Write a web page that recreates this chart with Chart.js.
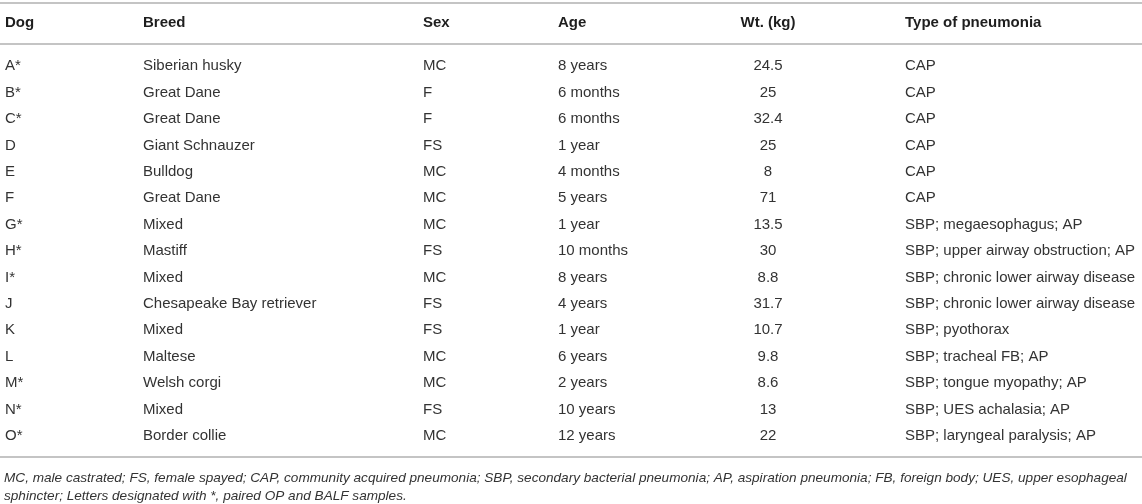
<!DOCTYPE html>
<html>
<head>
<meta charset="utf-8">
<title>Dogs with pneumonia</title>
<script src="https://cdn.jsdelivr.net/npm/chart.js@4/dist/chart.umd.min.js"></script>
<style>
  body { margin: 0; background: #fff; }
  #wrap { width: 1142px; height: 504px; position: relative; }
</style>
</head>
<body>
<div id="wrap"><canvas id="table-canvas"></canvas></div>
<script>
// table data, one array per column
var headers = ["Dog", "Breed", "Sex", "Age", "Wt. (kg)", "Type of pneumonia"];
var dogs = ["A*", "B*", "C*", "D", "E", "F", "G*", "H*", "I*", "J", "K", "L", "M*", "N*", "O*"];
var breeds = ["Siberian husky", "Great Dane", "Great Dane", "Giant Schnauzer", "Bulldog", "Great Dane",
	"Mixed", "Mastiff", "Mixed", "Chesapeake Bay retriever", "Mixed", "Maltese", "Welsh corgi", "Mixed", "Border collie"];
var sexes = ["MC", "F", "F", "FS", "MC", "MC", "MC", "FS", "MC", "FS", "FS", "MC", "MC", "FS", "MC"];
var ages = ["8 years", "6 months", "6 months", "1 year", "4 months", "5 years", "1 year", "10 months",
	"8 years", "4 years", "1 year", "6 years", "2 years", "10 years", "12 years"];
var weights = [24.5, 25, 32.4, 25, 8, 71, 13.5, 30, 8.8, 31.7, 10.7, 9.8, 8.6, 13, 22];
var types = ["CAP", "CAP", "CAP", "CAP", "CAP", "CAP",
	"SBP; megaesophagus; AP", "SBP; upper airway obstruction; AP", "SBP; chronic lower airway disease",
	"SBP; chronic lower airway disease", "SBP; pyothorax", "SBP; tracheal FB; AP",
	"SBP; tongue myopathy; AP", "SBP; UES achalasia; AP", "SBP; laryngeal paralysis; AP"];
var footnotes = [
	"MC, male castrated; FS, female spayed; CAP, community acquired pneumonia; SBP, secondary bacterial pneumonia; AP, aspiration pneumonia; FB, foreign body; UES, upper esophageal",
	"sphincter; Letters designated with *, paired OP and BALF samples."
];

// layout of the columns (x in scale units) and alignment
var colX = [5, 143, 423, 558, 768, 905];
var colAlign = ["left", "left", "left", "left", "center", "left"];

var bodyFont = "15px 'Liberation Sans', Arial, sans-serif";
var headFont = "bold 15px 'Liberation Sans', Arial, sans-serif";
var noteFont = "italic 13.6px 'Liberation Sans', Arial, sans-serif";

var tablePlugin = {
	id: "tableText",
	afterDraw: function(chart) {
		var ctx = chart.ctx;
		var xs = chart.scales.x;
		var ys = chart.scales.y;
		var columns = [dogs, breeds, sexes, ages, weights, types];
		var top = ys.top, bottom = ys.bottom;

		ctx.save();

		// rules
		ctx.strokeStyle = "#c4c4c4";
		ctx.lineWidth = 2;
		[top - 49, top - 8, bottom + 9].forEach(function(y) {
			ctx.beginPath();
			ctx.moveTo(xs.left, y);
			ctx.lineTo(xs.right, y);
			ctx.stroke();
		});

		// header
		ctx.textBaseline = "middle";
		ctx.font = headFont;
		ctx.fillStyle = "#1e1e1e";
		for (var c = 0; c < headers.length; c++) {
			ctx.textAlign = colAlign[c];
			ctx.fillText(headers[c], xs.getPixelForValue(colX[c]), top - 29);
		}

		// body cells
		ctx.font = bodyFont;
		ctx.fillStyle = "#333";
		for (var r = 0; r < dogs.length; r++) {
			var y = ys.getPixelForValue(r) + 1;
			for (var c = 0; c < columns.length; c++) {
				ctx.textAlign = colAlign[c];
				ctx.fillText(String(columns[c][r]), xs.getPixelForValue(colX[c]), y);
			}
		}

		// footnote
		ctx.font = noteFont;
		ctx.textAlign = "left";
		ctx.fillStyle = "#333";
		for (var i = 0; i < footnotes.length; i++) {
			ctx.fillText(footnotes[i], xs.getPixelForValue(4), bottom + 30 + i * 18);
		}

		ctx.restore();
	}
};

var ctx = document.getElementById("table-canvas");

var chart = new Chart(ctx, {
	type: "scatter",
	data: {
		datasets: [{
			label: "Wt. (kg)",
			data: [],
			pointRadius: 0
		}]
	},
	options: {
		responsive: true,
		maintainAspectRatio: false,
		animation: false,
		events: [],
		layout: { padding: { top: 52, bottom: 56, left: 0, right: 0 } },
		plugins: {
			legend: { display: false },
			tooltip: { enabled: false }
		},
		scales: {
			x: { type: "linear", min: 0, max: 1142, display: false },
			y: { type: "category", labels: dogs, offset: true, display: false }
		}
	},
	plugins: [tablePlugin]
});
</script>
</body>
</html>
